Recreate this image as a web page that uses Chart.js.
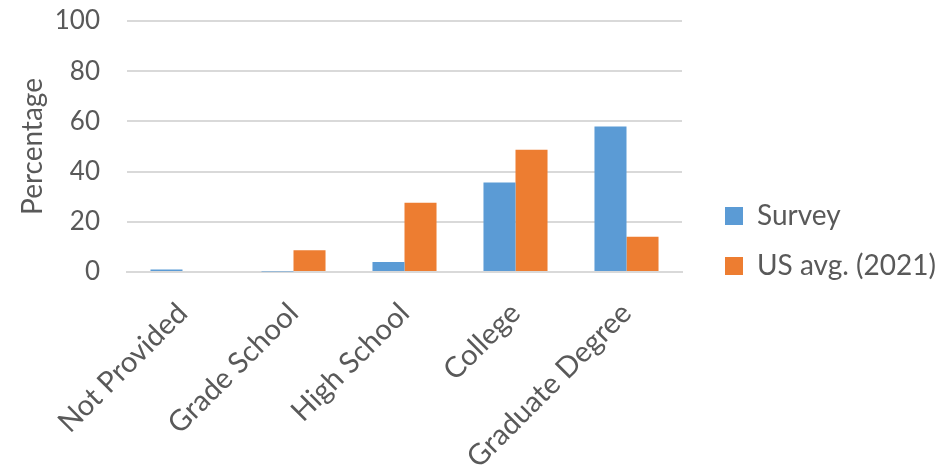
<!DOCTYPE html>
<html>
<head>
<meta charset="utf-8">
<title>Education level</title>
<script src="https://cdn.jsdelivr.net/npm/chart.js@4.4.1/dist/chart.umd.min.js"></script>
<style>
  html, body { margin: 0; padding: 0; background: #fff; }
  #wrap { width: 940px; height: 469px; }
</style>
</head>
<body>
<div id="wrap"><canvas id="chart"></canvas></div>
<script>
const categories = ['Not Provided', 'Grade School', 'High School', 'College', 'Graduate Degree'];
const surveyValues = [1, 0.2, 4, 35.7, 58];
const usAvgValues = [0, 8.7, 27.6, 48.7, 14];
const yTicks = [0, 20, 40, 60, 80, 100];

const textColor = '#595959';
const gridColor = '#d9d9d9';
const fontFamily = 'Lato, "Open Sans", sans-serif';

// fixed legend column width, then nudge it right/up after layout
const legendPlacement = {
  id: 'legendPlacement',
  beforeInit(chart) {
    const legend = chart.legend;
    const fit = legend.fit;
    legend.fit = function () {
      fit.call(this);
      this.width = 258;
    };
  },
  afterLayout(chart) {
    const legend = chart.legend;
    legend.left += 21;
    legend.right += 21;
    legend.top -= 4;
    legend.bottom -= 4;
  }
};

const ctx = document.getElementById('chart').getContext('2d');

new Chart(ctx, {
  type: 'bar',
  data: {
    labels: categories,
    datasets: [
      {
        label: 'Survey',
        data: surveyValues,
        backgroundColor: '#5b9bd5',
        borderWidth: 0,
        categoryPercentage: 0.577,
        barPercentage: 1
      },
      {
        label: 'US avg. (2021)',
        data: usAvgValues,
        backgroundColor: '#ed7d31',
        borderWidth: 0,
        categoryPercentage: 0.577,
        barPercentage: 1
      }
    ]
  },
  options: {
    responsive: true,
    maintainAspectRatio: false,
    animation: false,
    layout: { padding: { top: 21, right: 0, left: 16, bottom: 0 } },
    plugins: {
      tooltip: { enabled: false },
      legend: {
        position: 'right',
        align: 'center',
        labels: {
          boxWidth: 18,
          boxHeight: 18,
          padding: 22,
          color: textColor,
          font: { family: fontFamily, size: 28 }
        }
      }
    },
    scales: {
      x: {
        grid: { display: false, drawTicks: false },
        border: { color: gridColor, width: 2 },
        ticks: {
          color: textColor,
          font: { family: fontFamily, size: 29 },
          minRotation: 45,
          maxRotation: 45,
          padding: 24,
          autoSkip: false
        },
        afterFit: axis => { axis.height = 197; }
      },
      y: {
        min: 0,
        max: 100,
        afterBuildTicks: axis => { axis.ticks = yTicks.map(v => ({ value: v })); },
        afterFit: axis => {
          axis.width = 111;
          axis.paddingTop = 0;
          axis.paddingBottom = 0;
        },
        grid: { color: gridColor, lineWidth: 2, drawTicks: false },
        border: { display: false },
        ticks: {
          color: textColor,
          font: { family: fontFamily, size: 26 },
          padding: 27
        },
        title: {
          display: true,
          text: 'Percentage',
          color: textColor,
          font: { family: fontFamily, size: 28 },
          padding: { top: 0, bottom: 4 }
        }
      }
    }
  },
  plugins: [legendPlacement]
});
</script>
</body>
</html>
